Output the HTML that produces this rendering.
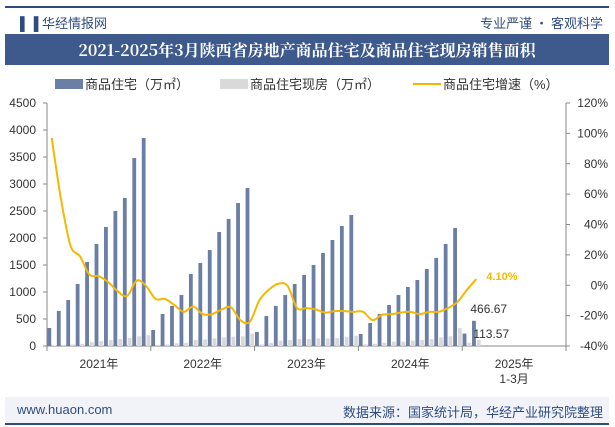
<!DOCTYPE html>
<html><head><meta charset="utf-8"><style>
body{margin:0;width:615px;height:427px;overflow:hidden;background:#fff;font-family:"Liberation Sans","Noto Sans CJK SC",sans-serif;position:relative}
.abs{position:absolute}
</style></head><body>
<div class="abs" style="left:5px;top:6px;width:604px;height:2px;background:#2f4c80"></div>
<div class="abs" style="left:20px;top:13px;font-size:13px;color:#2f4c80">▌▐ <span style="font-family:'Noto Sans CJK SC',sans-serif">华经情报网</span></div>
<div class="abs" style="right:12px;top:13px;font-size:13px;color:#2f4c80;font-family:'Noto Sans CJK SC',sans-serif">专业严谨 • 客观科学</div>
<div class="abs" style="left:5px;top:34px;width:604px;height:31px;background:#3e5a8d;color:#fff;font-size:16px;font-weight:bold;text-align:center;line-height:31px;font-family:'Noto Serif CJK SC','Noto Sans CJK SC',serif">2021-2025年3月陕西省房地产商品住宅及商品住宅现房销售面积</div>
<div class="abs" style="left:5px;top:397px;width:604px;height:26px;background:#f1f3f9"></div>
<div class="abs" style="left:17px;top:402px;font-size:13px;color:#2f4c80">www.huaon.com</div>
<div class="abs" style="right:12px;top:402px;font-size:13px;color:#2f4c80;font-family:'Noto Sans CJK SC',sans-serif">数据来源：国家统计局，华经产业研究院整理</div>
<div class="abs" style="left:5px;top:423px;width:604px;height:2px;background:#2f4c80"></div>
<svg class="abs" style="left:0;top:0" width="615" height="427" id="chart">
<g font-size="13" fill="#333" font-family="Liberation Sans, Noto Sans CJK SC, sans-serif">
<rect x="55" y="79" width="28" height="10" fill="#6a7ea6"/>
<text x="85" y="89">商品住宅（万㎡）</text>
<rect x="220" y="79" width="28" height="10" fill="#d9d9d9"/>
<text x="250" y="89">商品住宅现房（万㎡）</text>
<line x1="413" y1="84" x2="441" y2="84" stroke="#f5b800" stroke-width="2"/>
<text x="443" y="89">商品住宅增速（%）</text>
</g>
<g id="plot"></g>
</svg>
<script>
const years=['2021年','2022年','2023年','2024年'];
const sales=[333,648,852,1148,1555,1889,2204,2500,2741,3481,3852,
296,593,741,944,1333,1537,1778,2111,2352,2648,2926,
259,556,741,944,1148,1315,1500,1722,1963,2222,2426,
222,426,593,759,944,1093,1222,1426,1630,1889,2185,
230,466.67];
const existing=[10,20,30,40,70,90,110,130,150,180,200,
20,30,50,60,110,120,140,160,170,180,230,
30,60,100,110,130,130,140,140,150,170,190,
30,40,60,80,80,100,110,130,160,180,330,
60,113.57];
const growth=[97,56,26,19,7,6,2,-4,-7,3,-0.5,
-9,-9,-13,-17.5,-14,-19,-19,-16,-14.5,-23,-24,
-10,-3,1,-0.5,-15,-15,-16,-18,-17,-17,-17.5,
-17.5,-23,-19.5,-19,-18,-17.5,-19,-17.5,-17.5,-15,-11,
-3,4.1];
const leftTicks=[0,500,1000,1500,2000,2500,3000,3500,4000,4500];
const rightTicks=[-40,-20,0,20,40,60,80,100,120];
const X0=47,X1=566,Y0=346,Y1=103,SLOTS=55;
const band=(X1-X0)/SLOTS;
const xc=i=>X0+band*(i+0.5);
const yL=v=>Y0-(v/4500)*(Y0-Y1);
const yR=v=>Y0-((v+40)/160)*(Y0-Y1);
const NS='http://www.w3.org/2000/svg';
const g=document.getElementById('plot');
function mk(t,a){const e=document.createElementNS(NS,t);for(const k in a)e.setAttribute(k,a[k]);g.appendChild(e);return e;}
leftTicks.forEach(v=>{const t=mk('text',{x:36,y:yL(v)+4,'text-anchor':'end','font-size':12,fill:'#333'});t.textContent=v;


mk('line',{x1:X0-4,x2:X0,y1:yL(v),y2:yL(v),stroke:'#888'});});
rightTicks.forEach(v=>{const t=mk('text',{x:608,y:yR(v)+4,'text-anchor':'end','font-size':12,fill:'#333'});t.textContent=v+'%';


mk('line',{x1:X1,x2:X1+4,y1:yR(v),y2:yR(v),stroke:'#888'});});
mk('line',{x1:X0,x2:X0,y1:Y1,y2:Y0,stroke:'#888'});
mk('line',{x1:X1,x2:X1,y1:Y1,y2:Y0,stroke:'#888'});
const ax=mk('line',{x1:X0,x2:X1,y1:Y0,y2:Y0,stroke:'#888'});


for(let k=0;k<=5;k++){const x=X0+k*11*band;mk('line',{x1:x,x2:x,y1:Y0,y2:Y0+5,stroke:'#888'});}
years.forEach((y,k)=>{const t=mk('text',{x:X0+(k+0.5)*11*band,y:368,'text-anchor':'middle','font-size':12,fill:'#333'});t.textContent=y;

});
const t5=mk('text',{x:X0+4.5*11*band,y:368,'text-anchor':'middle','font-size':12,fill:'#333'});t5.textContent='2025年';


const t6=mk('text',{x:X0+4.5*11*band,y:383,'text-anchor':'middle','font-size':12,fill:'#333'});t6.textContent='1-3月';


sales.forEach((v,i)=>{const r=mk('rect',{x:xc(i)-4.3,y:yL(v),width:3.8,height:Y0-yL(v),fill:'#6a7ea6'});

});
existing.forEach((v,i)=>{const r=mk('rect',{x:xc(i)+0.5,y:yL(v),width:3.8,height:Y0-yL(v),fill:'#d9d9d9'});

});
// smooth line (catmull-rom)
const pts=growth.map((v,i)=>[xc(i),yR(v)]);
let d='M'+pts[0][0]+','+pts[0][1];
for(let i=0;i<pts.length-1;i++){const p0=pts[i-1]||pts[i],p1=pts[i],p2=pts[i+1],p3=pts[i+2]||p2;
d+=` C${p1[0]+(p2[0]-p0[0])/6},${p1[1]+(p2[1]-p0[1])/6} ${p2[0]-(p3[0]-p1[0])/6},${p2[1]-(p3[1]-p1[1])/6} ${p2[0]},${p2[1]}`;}
const ln=mk('path',{d:d,fill:'none',stroke:'#f5b800','stroke-width':2});


const n=sales.length-1;
const l1=mk('text',{x:xc(n)+10,y:yR(growth[n])+1,'font-size':11,'font-weight':'bold',fill:'#f5b800'});l1.textContent=growth[n].toFixed(2)+'%';


const l2=mk('text',{x:xc(n)-6,y:313,'font-size':12,fill:'#333'});l2.textContent=sales[n].toFixed(2);


const l3=mk('text',{x:xc(n)-3,y:338,'font-size':12,fill:'#333'});l3.textContent=existing[n].toFixed(2);


</script>
</body></html>
